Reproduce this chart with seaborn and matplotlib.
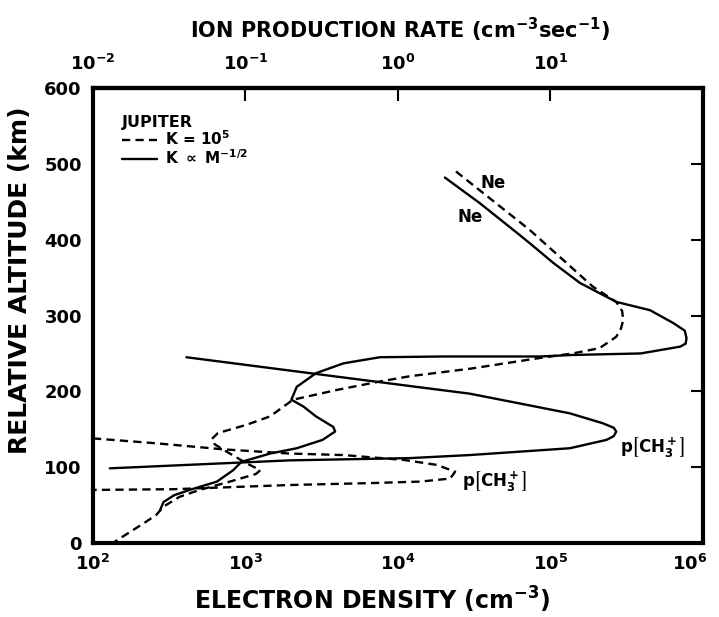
import matplotlib
matplotlib.use("Agg")
import numpy as np
import pandas as pd
import matplotlib.pyplot as plt
import seaborn as sns
from matplotlib.lines import Line2D
from matplotlib.ticker import NullLocator
from matplotlib.transforms import ScaledTranslation

sns.set_theme(style="white")
plt.rcParams["font.family"] = ["DejaVu Sans"]
plt.rcParams["font.weight"] = "bold"
plt.rcParams["axes.labelweight"] = "bold"
plt.rcParams["mathtext.fontset"] = "dejavusans"
plt.rcParams["mathtext.default"] = "bf"
for key in ["text.color", "axes.labelcolor", "xtick.color", "ytick.color", "axes.edgecolor"]:
    plt.rcParams[key] = "black"

# Ne profile, K = 1e5 (dashed)
ne_k5_density = [2.4e4, 7.3e4, 1.9e5, 2.7e5, 2.95e5, 3.0e5, 2.9e5, 2.7e5, 2.1e5, 1.4e5,
                 8.5e4, 3.0e4, 1.2e4, 7.6e3, 4.0e3, 2.05e3, 1.45e3, 1.02e3, 6.6e2, 6.0e2,
                 6.3e2, 7.9e2, 1.02e3, 1.25e3, 1.17e3, 7.9e2, 5.0e2, 3.7e2, 2.9e2, 2.6e2,
                 2.15e2, 1.5e2, 1.35e2]
ne_k5_alt = [490, 413, 338, 318, 306, 294, 283, 272, 257, 250,
             244, 230, 220, 213, 202, 189, 167, 156, 145, 137,
             130, 118, 105, 96, 91, 81, 70, 61, 48, 37,
             26, 6, 0]

# Ne profile, K ~ M^-1/2 (solid)
ne_m_density = [2.03e4, 3.45e4, 6.3e4, 7.35e4, 1.05e5, 1.56e5, 2.7e5, 4.5e5, 6.4e5, 7.6e5,
                7.8e5, 7.7e5, 7.1e5, 3.9e5, 1.4e5, 8.5e4, 2.0e4, 7.6e3, 4.4e3, 2.9e3,
                2.17e3, 2.0e3, 2.4e3, 2.9e3, 3.77e3, 3.87e3, 3.2e3, 2.17e3, 1.45e3, 9.4e2,
                8.3e2, 6.5e2, 4.3e2, 3.4e2, 2.9e2, 2.75e2]
ne_m_alt = [482, 448, 406, 395, 369, 343, 318, 307, 290, 280,
            270, 263, 259, 250, 248, 246, 246, 245, 237, 224,
            206, 189, 180, 167, 153, 147, 136, 125, 118, 107,
            96, 81, 70, 63, 54, 43]

# CH3+ production rate, K ~ M^-1/2 (solid), plotted on density axis (rate x 1e4)
p_m_density = [4.1e2, 1.2e4, 2.95e4, 6.3e4, 1.34e5, 2.2e5, 2.6e5, 2.7e5, 2.6e5, 2.33e5,
               1.34e5, 6.3e4, 2.95e4, 1.2e4, 1.95e3, 1.29e2]
p_m_alt = [245, 207, 197, 184, 171, 158, 152, 147, 141, 136,
           125, 120.5, 116, 112, 109, 98.5]

# CH3+ production rate, K = 1e5 (dashed)
p_k5_density = [1.0e2, 2.6e2, 7.1e2, 1.95e3, 4.4e3, 1.1e4, 1.8e4, 2.37e4, 2.2e4, 1.4e4,
                6.5e3, 1.95e3, 3.4e2, 1.0e2]
p_k5_alt = [138, 131.5, 123.6, 118, 116, 109.5, 103, 94, 85, 81,
            79, 76.5, 71, 70]

bottom_ticks = [1e2, 1e3, 1e4, 1e5, 1e6]
bottom_labels = [r"$10^{2}$", r"$10^{3}$", r"$10^{4}$", r"$10^{5}$", r"$10^{6}$"]
top_ticks = [1e-2, 1e-1, 1e0, 1e1]
top_labels = [r"$10^{-2}$", r"$10^{-1}$", r"$10^{0}$", r"$10^{1}$"]
alt_ticks = [0, 100, 200, 300, 400, 500, 600]

dash = (0, (3.5, 2.2))
lw = 1.7

fig = plt.figure(figsize=(7.19, 6.17), dpi=100)
ax = fig.add_axes([0.1293, 0.1199, 0.8484, 0.7374])

curves = [
    (ne_k5_density, ne_k5_alt, dash),
    (ne_m_density, ne_m_alt, "-"),
    (p_m_density, p_m_alt, "-"),
    (p_k5_density, p_k5_alt, dash),
]
for dens, alt, ls in curves:
    df = pd.DataFrame({"density": dens, "altitude": alt})
    sns.lineplot(data=df, x="density", y="altitude", sort=False, estimator=None,
                 color="black", linewidth=lw, linestyle=ls, ax=ax)

ax.set_xscale("log")
ax.set_xlim(1e2, 1e6)
ax.set_ylim(0, 600)
ax.set_xticks(bottom_ticks)
ax.set_xticklabels(bottom_labels)
ax.set_yticks(alt_ticks)
ax.xaxis.set_minor_locator(NullLocator())
ax.tick_params(axis="both", which="major", direction="in", length=9, width=1.5,
               labelsize=13, pad=8, right=True, top=False)
for s in ax.spines.values():
    s.set_linewidth(3)

# keep the rightmost bottom label inside the figure
last = ax.get_xticklabels()[-1]
last.set_transform(last.get_transform() + ScaledTranslation(-0.13, 0, fig.dpi_scale_trans))

secax = ax.secondary_xaxis("top", functions=(lambda x: x * 1e-4, lambda x: x * 1e4))
secax.set_xticks(top_ticks)
secax.set_xticklabels(top_labels)
secax.xaxis.set_minor_locator(NullLocator())
secax.tick_params(direction="in", length=9, width=1.5, labelsize=13, pad=10)
secax.spines["top"].set_linewidth(3)

ax.text(0.503, 1.127, r"ION PRODUCTION RATE (cm$^{-3}$sec$^{-1}$)", fontsize=15,
        ha="center", va="center", transform=ax.transAxes)

ax.set_xlabel(r"ELECTRON DENSITY (cm$^{-3}$)", fontsize=17)
ax.xaxis.set_label_coords(0.457, -0.125)
ax.xaxis.label.set_va("center")
ax.set_ylabel("RELATIVE ALTITUDE (km)", fontsize=18)
ax.yaxis.set_label_coords(-0.12, 0.578)
ax.yaxis.label.set_va("center")

# curve annotations
ax.text(4.2e4, 475, "Ne", fontsize=12, ha="center", va="center")
ax.text(2.96e4, 430, "Ne", fontsize=12, ha="center", va="center")
ax.text(4.7e5, 127, r"p$\left[\mathbf{CH_3^+}\right]$", fontsize=12, ha="center", va="center")
ax.text(4.3e4, 82, r"p$\left[\mathbf{CH_3^+}\right]$", fontsize=12, ha="center", va="center")

handles = [Line2D([], [], color="black", lw=lw, ls=dash),
           Line2D([], [], color="black", lw=lw, ls="-")]
leg = ax.legend(handles, [r"K = $10^5$", r"K $\propto$ M$^{-1/2}$"], title="JUPITER",
                loc="upper left", bbox_to_anchor=(0.03, 0.965), frameon=False,
                fontsize=11, title_fontsize=11.5, handlelength=2.3, handletextpad=0.5,
                labelspacing=0.0, borderpad=0.2, alignment="left")
leg.get_title().set_fontweight("bold")

fig.savefig("out.png", dpi=100)
